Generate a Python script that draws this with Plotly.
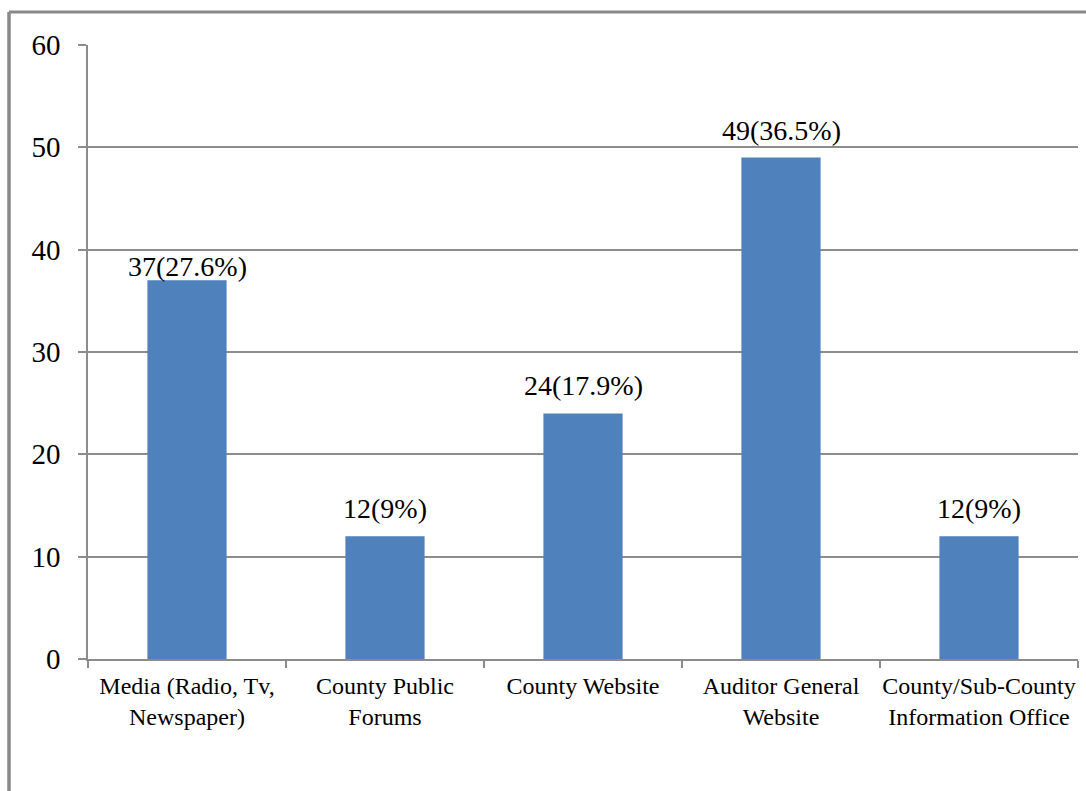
import plotly.graph_objects as go

categories = ["Media (Radio, Tv,<br>Newspaper)", "County Public<br>Forums", "County Website",
              "Auditor General<br>Website", "County/Sub-County<br>Information Office"]
values = [37, 12, 24, 49, 12]
labels = ["37(27.6%)", "12(9%)", "24(17.9%)", "49(36.5%)", "12(9%)"]
label_shift = [-4, 10, 10, 10, 10]

W, H = 1086, 791
L, R, T, B = 88, 8, 45, 132
pw, ph = W - L - R, H - T - B

fig = go.Figure(go.Bar(
    x=categories, y=values,
    marker=dict(color="#4f81bd", line=dict(width=0)),
    width=0.4,
))

for c, v, t, s in zip(categories, values, labels, label_shift):
    fig.add_annotation(x=c, y=v, text=t, showarrow=False, yanchor="bottom",
                       yshift=s, font=dict(family="Liberation Serif", size=28, color="black"))

grid = "#8c8c8c"
fig.update_layout(
    width=W, height=H, margin=dict(l=L, r=R, t=T, b=B, pad=0, autoexpand=False),
    paper_bgcolor="white", plot_bgcolor="white", showlegend=False,
    font=dict(family="Liberation Serif", color="black"),
    xaxis=dict(type="category", showline=True, linecolor=grid, linewidth=1.5,
               ticks="outside", tickson="boundaries", ticklen=7, tickcolor=grid,
               tickwidth=1.5, showgrid=False, ticklabelstandoff=4,
               tickangle=0, automargin=False,
               tickfont=dict(size=24, family="Liberation Serif", color="black")),
    yaxis=dict(range=[0, 60], dtick=10, showline=True, linecolor=grid, linewidth=1.5,
               ticks="outside", ticklen=8, tickcolor=grid, tickwidth=1.5,
               showgrid=True, gridcolor=grid, gridwidth=1.5, zeroline=False,
               ticklabelstandoff=12, automargin=False,
               tickfont=dict(size=29, family="Liberation Serif", color="black")),
)

bx = (9 - L) / pw
by = 1 + (T - 12) / ph
fig.add_shape(type="line", xref="paper", yref="paper", x0=bx, x1=(W + 10 - L) / pw,
              y0=by, y1=by, line=dict(color="#888888", width=3))
fig.add_shape(type="line", xref="paper", yref="paper", x0=bx, x1=bx,
              y0=by, y1=-(B + 20) / ph, line=dict(color="#888888", width=3.5))

fig.write_html("out.html")
